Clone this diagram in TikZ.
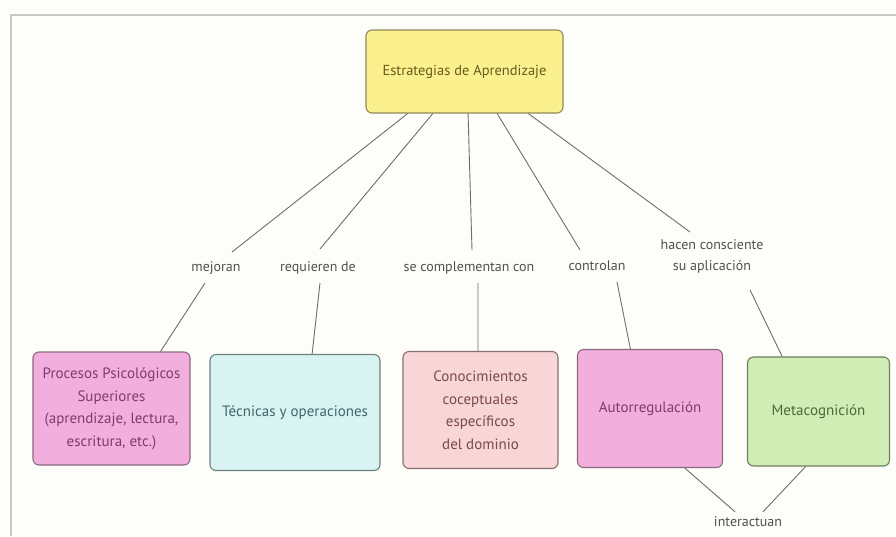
\documentclass[tikz,border=0pt]{standalone}
\usepackage{fontspec}
\setmainfont{PT Sans}
\usetikzlibrary{calc}
\definecolor{paper}{HTML}{FDFDF9}
\definecolor{framegray}{HTML}{C8C8C4}
\definecolor{linkgray}{HTML}{6E6E6E}
\definecolor{labelgray}{HTML}{505050}
\definecolor{yelfill}{HTML}{FAF18E}
\definecolor{yeldraw}{HTML}{8E8A5A}
\definecolor{yeltext}{HTML}{6B5A1E}
\definecolor{pinkfill}{HTML}{F2AEDC}
\definecolor{pinkdraw}{HTML}{8A6A80}
\definecolor{pinktext}{HTML}{7E3C70}
\definecolor{cyanfill}{HTML}{D8F3F1}
\definecolor{cyandraw}{HTML}{6E8080}
\definecolor{cyantext}{HTML}{3F6668}
\definecolor{rosefill}{HTML}{F8D5D6}
\definecolor{rosedraw}{HTML}{8A7070}
\definecolor{rosetext}{HTML}{7A4A4A}
\definecolor{greenfill}{HTML}{CFEDB4}
\definecolor{greendraw}{HTML}{6E7E62}
\definecolor{greentext}{HTML}{4A6A3A}
\tikzset{
  concept/.style={draw, rounded corners=6pt, line width=1.1pt, align=center,
    inner sep=2pt, font=\fontsize{15}{22.5}\selectfont},
  linklabel/.style={text=labelgray, align=center, inner sep=2pt,
    font=\fontsize{14}{21}\selectfont},
  link/.style={draw=linkgray, line width=0.9pt},
}
\begin{document}
\begin{tikzpicture}[x=1pt, y=-1pt]
  \useasboundingbox (0,0) rectangle (896,536);
  \fill[paper] (0,0) rectangle (896,536);
  % page frame
  \draw[framegray, line width=1.4pt] (896,15) -- (11,15) -- (11,536);

  % central concept
  \node[concept, fill=yelfill, draw=yeldraw, text=yeltext,
        font=\fontsize{14.5}{20}\selectfont,
        minimum width=197pt, minimum height=83pt] (top) at (464.5,71.5)
        {Estrategias de Aprendizaje};

  % lower concepts
  \node[concept, fill=pinkfill, draw=pinkdraw, text=pinktext,
        minimum width=157pt, minimum height=113pt] (proc) at (111.5,408.5)
        {Procesos Psicológicos\\Superiores\\(aprendizaje, lectura,\\escritura, etc.)};
  \node[concept, fill=cyanfill, draw=cyandraw, text=cyantext,
        minimum width=170pt, minimum height=116pt] (tec) at (295,412.5)
        {Técnicas y operaciones};
  \node[concept, fill=rosefill, draw=rosedraw, text=rosetext,
        minimum width=155pt, minimum height=117pt] (con) at (480.5,410)
        {Conocimientos\\coceptuales\\específicos\\del dominio};
  \node[concept, fill=pinkfill, draw=pinkdraw, text=pinktext,
        minimum width=145pt, minimum height=118pt] (aut) at (650,408.5)
        {Autorregulación};
  \node[concept, fill=greenfill, draw=greendraw, text=greentext,
        minimum width=142pt, minimum height=109pt] (met) at (818.5,411.5)
        {Metacognición};

  % linking phrases
  \node[linklabel] (mej) at (216,268) {mejoran};
  \node[linklabel] (req) at (318,268) {requieren de};
  \node[linklabel] (sec) at (469,268) {se complementan con};
  \node[linklabel] (ctl) at (597,266) {controlan};
  \node[linklabel] (hac) at (712,256) {hacen consciente\\su aplicación};
  \node[linklabel] (int) at (748,522) {interactuan};

  % upper links: central concept to linking phrases
  \draw[link] ($(top.south west)!0.213!(top.south east)$) -- ($(mej)+(16,-16)$);
  \draw[link] ($(top.south west)!0.340!(top.south east)$) -- ($(req)+(2,-19)$);
  \draw[link] ($(top.south west)!0.518!(top.south east)$) -- ($(sec)+(3,-18)$);
  \draw[link] ($(top.south west)!0.665!(top.south east)$) -- ($(ctl)+(-17,-16)$);
  \draw[link] ($(top.south west)!0.822!(top.south east)$) -- ($(hac)+(-22,-24)$);

  % lower links: linking phrases to concepts
  \draw[link] ($(mej)+(-11,15)$) -- ($(proc.north west)!0.81!(proc.north east)$);
  \draw[link] ($(req)+(2,15)$) -- ($(tec.north west)!0.60!(tec.north east)$);
  \draw[link] ($(sec)+(9,15)$) -- ($(con.north west)!0.484!(con.north east)$);
  \draw[link] ($(ctl)+(20,16)$) -- ($(aut.north west)!0.366!(aut.north east)$);
  \draw[link] ($(hac)+(38,34)$) -- ($(met.north west)!0.246!(met.north east)$);

  % interaction links
  \draw[link] ($(aut.south west)!0.738!(aut.south east)$) -- ($(int.north)+(-13,-3)$);
  \draw[link] ($(met.south west)!0.41!(met.south east)$) -- ($(int.north)+(15,-3)$);
\end{tikzpicture}
\end{document}
